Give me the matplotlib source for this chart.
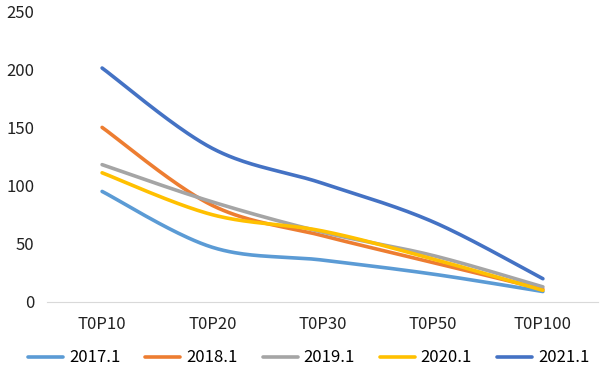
import numpy as np
import matplotlib.pyplot as plt

plt.rcParams['font.family'] = ['Noto Sans CJK SC', 'DejaVu Sans']

categories = ['T0P10', 'T0P20', 'T0P30', 'T0P50', 'T0P100']
labels = ['2017.1', '2018.1', '2019.1', '2020.1', '2021.1']
s2017 = [95, 47, 36, 24, 9]
s2018 = [150, 83, 57, 34, 11]
s2019 = [118, 86, 60, 40, 13]
s2020 = [111, 75, 61, 37, 10]
s2021 = [201, 132, 102, 69, 20]
colors = ['#5B9BD5', '#ED7D31', '#A5A5A5', '#FFC000', '#4472C4']


def smooth(x, y, n=40):
    # Catmull-Rom style bezier, like Excel's smoothed line
    x = np.asarray(x, float)
    y = np.asarray(y, float)
    px, py = [], []
    for i in range(len(x) - 1):
        x0, y0 = (x[i - 1], y[i - 1]) if i > 0 else (x[i], y[i])
        x3, y3 = (x[i + 2], y[i + 2]) if i + 2 < len(x) else (x[i + 1], y[i + 1])
        x1, y1, x2, y2 = x[i], y[i], x[i + 1], y[i + 1]
        c1x, c1y = x1 + (x2 - x0) / 6, y1 + (y2 - y0) / 6
        c2x, c2y = x2 - (x3 - x1) / 6, y2 - (y3 - y1) / 6
        t = np.linspace(0, 1, n)
        px.append((1-t)**3*x1 + 3*(1-t)**2*t*c1x + 3*(1-t)*t**2*c2x + t**3*x2)
        py.append((1-t)**3*y1 + 3*(1-t)**2*t*c1y + 3*(1-t)*t**2*c2y + t**3*y2)
    return np.concatenate(px), np.concatenate(py)


fig = plt.figure(figsize=(6.09, 3.78), dpi=100)
ax = fig.add_axes([47/609, 1 - 302/378, 551/609, 291/378])

xs = np.arange(len(categories))
for data, lab, c in zip([s2017, s2018, s2019, s2020, s2021], labels, colors):
    sx, sy = smooth(xs, data)
    ax.plot(sx, sy, color=c, lw=2.6, label=lab, solid_capstyle='round')

ax.set_xlim(-0.5, 4.5)
ax.set_ylim(0, 250)
ax.set_yticks([0, 50, 100, 150, 200, 250])
ax.set_xticks(xs)
ax.set_xticklabels(categories)
ax.tick_params(axis='both', length=0, labelsize=12, colors='#222222')
ax.tick_params(axis='x', pad=10)
ax.tick_params(axis='y', pad=9)
for s in ['top', 'right', 'left']:
    ax.spines[s].set_visible(False)
ax.spines['bottom'].set_color('#D9D9D9')

ax.legend(loc='center', bbox_to_anchor=(0.475, -0.192), ncol=5, frameon=False,
          fontsize=12, handlelength=2.1, columnspacing=1.5, handletextpad=0.35)

fig.savefig('out.png', dpi=100)
